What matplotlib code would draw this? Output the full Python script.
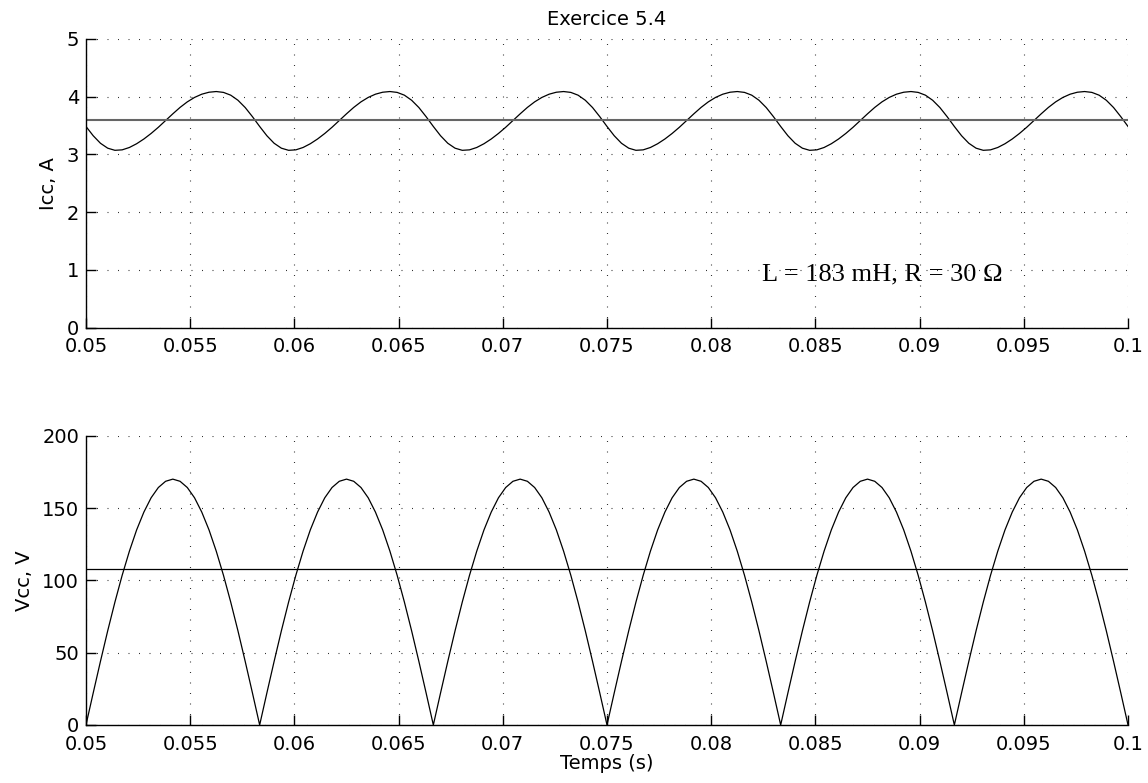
import numpy as np
import matplotlib
matplotlib.use('Agg')
import matplotlib.pyplot as plt

plt.rcParams['font.family'] = ['DejaVu Sans']

# ---------------- data ----------------
t = np.linspace(0.05, 0.1, 145)  # sample times (s)

icc = [
    3.485, 3.324, 3.194, 3.109, 3.072, 3.080, 3.121, 3.186, 3.268, 3.364, 3.471, 3.587,
    3.704, 3.815, 3.911, 3.988, 4.044, 4.078, 4.090, 4.075, 4.027, 3.939, 3.813, 3.655,
    3.485, 3.324, 3.194, 3.109, 3.072, 3.080, 3.121, 3.186, 3.268, 3.364, 3.471, 3.587,
    3.704, 3.815, 3.911, 3.988, 4.044, 4.078, 4.090, 4.075, 4.027, 3.939, 3.813, 3.655,
    3.485, 3.324, 3.194, 3.109, 3.072, 3.080, 3.121, 3.186, 3.268, 3.364, 3.471, 3.587,
    3.704, 3.815, 3.911, 3.988, 4.044, 4.078, 4.090, 4.075, 4.027, 3.939, 3.813, 3.655,
    3.485, 3.324, 3.194, 3.109, 3.072, 3.080, 3.121, 3.186, 3.268, 3.364, 3.471, 3.587,
    3.704, 3.815, 3.911, 3.988, 4.044, 4.078, 4.090, 4.075, 4.027, 3.939, 3.813, 3.655,
    3.485, 3.324, 3.194, 3.109, 3.072, 3.080, 3.121, 3.186, 3.268, 3.364, 3.471, 3.587,
    3.704, 3.815, 3.911, 3.988, 4.044, 4.078, 4.090, 4.075, 4.027, 3.939, 3.813, 3.655,
    3.485, 3.324, 3.194, 3.109, 3.072, 3.080, 3.121, 3.186, 3.268, 3.364, 3.471, 3.587,
    3.704, 3.815, 3.911, 3.988, 4.044, 4.078, 4.090, 4.075, 4.027, 3.939, 3.813, 3.655,
    3.485,
]

vcc = [
    0.0, 22.2, 44.0, 65.1, 85.0, 103.5, 120.2, 134.9, 147.2, 157.1, 164.2, 168.5,
    170.0, 168.5, 164.2, 157.1, 147.2, 134.9, 120.2, 103.5, 85.0, 65.1, 44.0, 22.2,
    0.0, 22.2, 44.0, 65.1, 85.0, 103.5, 120.2, 134.9, 147.2, 157.1, 164.2, 168.5,
    170.0, 168.5, 164.2, 157.1, 147.2, 134.9, 120.2, 103.5, 85.0, 65.1, 44.0, 22.2,
    0.0, 22.2, 44.0, 65.1, 85.0, 103.5, 120.2, 134.9, 147.2, 157.1, 164.2, 168.5,
    170.0, 168.5, 164.2, 157.1, 147.2, 134.9, 120.2, 103.5, 85.0, 65.1, 44.0, 22.2,
    0.0, 22.2, 44.0, 65.1, 85.0, 103.5, 120.2, 134.9, 147.2, 157.1, 164.2, 168.5,
    170.0, 168.5, 164.2, 157.1, 147.2, 134.9, 120.2, 103.5, 85.0, 65.1, 44.0, 22.2,
    0.0, 22.2, 44.0, 65.1, 85.0, 103.5, 120.2, 134.9, 147.2, 157.1, 164.2, 168.5,
    170.0, 168.5, 164.2, 157.1, 147.2, 134.9, 120.2, 103.5, 85.0, 65.1, 44.0, 22.2,
    0.0, 22.2, 44.0, 65.1, 85.0, 103.5, 120.2, 134.9, 147.2, 157.1, 164.2, 168.5,
    170.0, 168.5, 164.2, 157.1, 147.2, 134.9, 120.2, 103.5, 85.0, 65.1, 44.0, 22.2,
    0.0,
]

icc_mean = 3.6
vcc_mean = 108.0

xticks = [0.05, 0.055, 0.06, 0.065, 0.07, 0.075, 0.08, 0.085, 0.09, 0.095, 0.1]
xticklabels = ['0.05', '0.055', '0.06', '0.065', '0.07', '0.075', '0.08',
               '0.085', '0.09', '0.095', '0.1']
icc_ticks = [0, 1, 2, 3, 4, 5]
vcc_ticks = [0, 50, 100, 150, 200]

title = 'Exercice 5.4'
icc_label = 'Icc, A'
vcc_label = 'Vcc, V'
x_label = 'Temps (s)'
note = 'L = 183 mH, R = 30 \u03a9'

# ---------------- figure ----------------
fig = plt.figure(figsize=(11.48, 7.83), dpi=100)
ax1 = fig.add_axes([0.0749, 0.5815, 0.9077, 0.3687])
ax2 = fig.add_axes([0.0749, 0.0741, 0.9077, 0.3694])

FS = 14


def style(ax, yticks, ylim):
    ax.set_xlim(0.05, 0.1)
    ax.set_ylim(*ylim)
    ax.set_xticks(xticks)
    ax.set_xticklabels(xticklabels)
    ax.set_yticks(yticks)
    ax.set_yticklabels([str(v) for v in yticks])
    for s in ('top', 'right'):
        ax.spines[s].set_visible(False)
    for s in ('left', 'bottom'):
        ax.spines[s].set_linewidth(1.0)
        ax.spines[s].set_color('black')
    ax.tick_params(direction='in', length=7.5, width=1.0, labelsize=FS,
                   colors='black')
    ax.tick_params(axis='x', pad=7)
    ax.tick_params(axis='y', pad=5)
    ax.grid(True, color='0.2', linewidth=0.8, linestyle=(0, (0.9, 8.55)))
    ax.set_axisbelow(True)


ax1.plot(t, icc, color='black', linewidth=0.9)
ax1.axhline(icc_mean, color='0.4', linewidth=1.5)
style(ax1, icc_ticks, (0, 5))
ax1.set_ylabel(icc_label, fontsize=FS, labelpad=6)
ax1.set_title(title, fontsize=FS, pad=10)
ax1.text(0.0882, 0.81, note, family='Liberation Serif', fontsize=19,
         ha='center', va='baseline')

ax2.plot(t, vcc, color='black', linewidth=0.9)
ax2.axhline(vcc_mean, color='black', linewidth=0.9)
style(ax2, vcc_ticks, (0, 200))
ax2.set_ylabel(vcc_label, fontsize=FS, labelpad=6)
ax2.set_xlabel(x_label, fontsize=FS, labelpad=0)

fig.savefig('out.png', dpi=100)
